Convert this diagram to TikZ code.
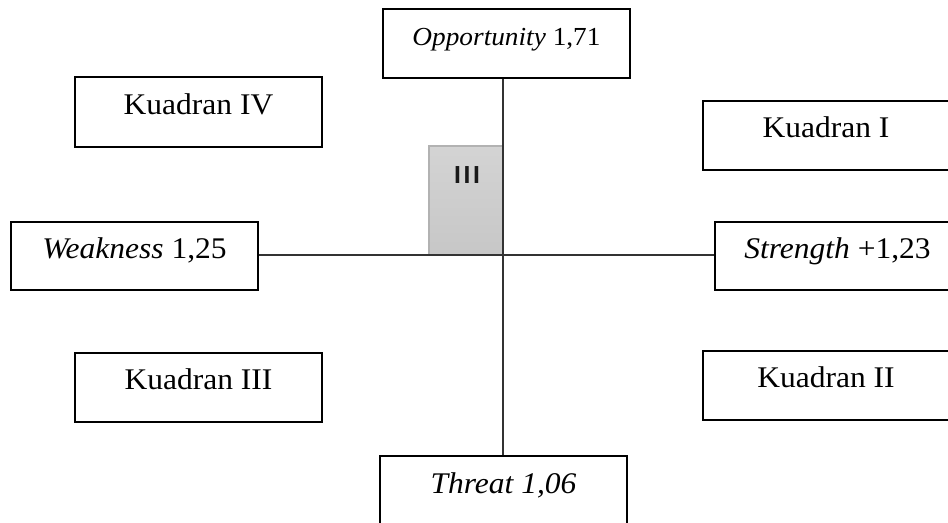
\documentclass[tikz,border=0pt]{standalone}
\usepackage{fontspec}
\setmainfont{Liberation Serif}[FakeStretch=1.05]
\newfontfamily\labsans{Liberation Sans}
\newcommand\quadbox[7][]{%
  \node[box,#1,minimum width={(#4-#2)*0.75pt},minimum height={(#5-#3)*0.75pt}]
    (#6) at ({(#2+#4)/2},{(#3+#5)/2}) {#7};}
\begin{document}
\begin{tikzpicture}[x=0.75pt,y=-0.75pt,
  box/.style={draw=black,line width=1.7pt,inner sep=0pt,fill=white,
    text height=0.65em,text depth=0.28em,
    font=\fontsize{22.5}{26}\selectfont},
  smallbox/.style={font=\fontsize{19.5}{23}\selectfont},
  axis/.style={draw=black!80,line width=1pt},
  graybox/.style={draw=black!30,line width=0.8pt,top color=black!17,bottom color=black!22,inner sep=0pt},
  roman/.style={font=\labsans\bfseries\fontsize{18.5}{20}\selectfont,text=black!90}]
\useasboundingbox (0,0) rectangle (948,523);
\clip (0,0) rectangle (948,523);
\coordinate (c) at (503,255);
% gray marker box
\node[graybox,minimum width={74*0.75pt},minimum height={109*0.75pt}] (g) at (466,200.5) {};
\node[roman] (g3) at (467,175) {I\kern2pt I\kern2pt I};
% boxes
\quadbox[smallbox]{383}{9}{630}{78}{opp}{\textit{Opportunity} 1,71}
\quadbox{75}{77}{322}{147}{k4}{Kuadran IV}
\quadbox{703}{101}{949}{170}{k1}{Kuadran I}
\quadbox{11}{222}{258}{290}{wk}{\textit{Weakness} 1,25}
\quadbox{715}{222}{960}{290}{st}{\textit{Strength} +1,23}
\quadbox{75}{353}{322}{422}{k3}{Kuadran III}
\quadbox{703}{351}{949}{420}{k2}{Kuadran II}
\quadbox{380}{456}{627}{526}{thr}{\textit{Threat 1,06}}
% axes
\draw[axis] (c |- opp.south) -- (c |- thr.north);
\draw[axis] (wk.east |- c) -- (st.west |- c);
\end{tikzpicture}
\end{document}
